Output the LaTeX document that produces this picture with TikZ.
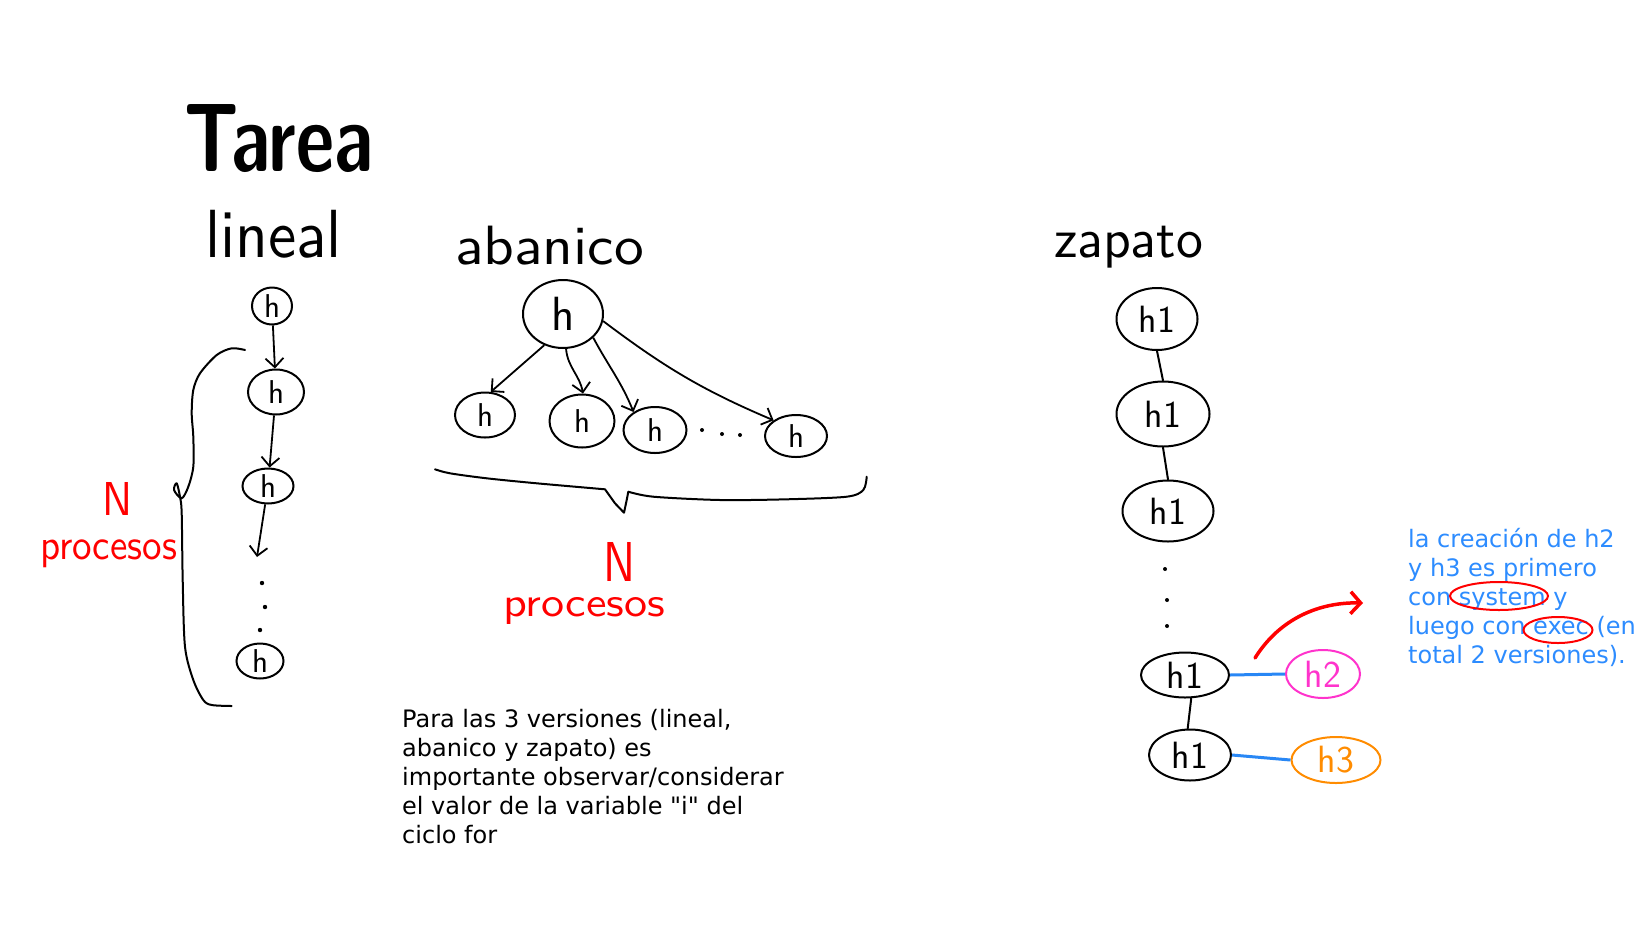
\documentclass[tikz,border=0pt]{standalone}
\usepackage{fontspec}
\usepackage{graphicx}
\setmainfont{DejaVu Sans}[Ligatures=TeXOff]
\usetikzlibrary{shapes.geometric,arrows.meta}
\definecolor{hred}{RGB}{255,0,0}
\definecolor{tblue}{RGB}{45,140,255}
\definecolor{lblue}{RGB}{40,135,245}
\definecolor{hpink}{RGB}{255,51,204}
\definecolor{horange}{RGB}{255,140,0}
\newcommand{\hw}[3]{\resizebox*{#1}{#2}{\sffamily #3}}
\tikzset{
  hand/.style={anchor=north west, inner sep=0pt, outer sep=0pt},
  hn/.style={ellipse, draw, line width=2pt, inner sep=0pt, font=\sffamily\fontsize{33}{33}\selectfont},
  bign/.style={hn, font=\sffamily\fontsize{48}{48}\selectfont},
  zn/.style={hn, font=\sffamily\fontsize{38}{38}\selectfont},
  arr/.style={line width=1.8pt, -{Straight Barb[length=9pt,width=18pt,line width=1.8pt]}},
  pen/.style={line width=2pt, line cap=round, line join=round},
  btxt/.style={anchor=base west, inner sep=0pt, text=tblue, font=\fontsize{24}{29}\selectfont},
  ktxt/.style={anchor=base west, inner sep=0pt, text=black, font=\fontsize{24}{29}\selectfont},
  ring/.style={ellipse, draw=red, line width=2pt, inner sep=0pt}
}
\begin{document}
\begin{tikzpicture}[x=1pt,y=-1pt]
\useasboundingbox[fill=white] (0,0) rectangle (1648,927);

% titles
\node[hand] (tarea) at (184,105) {\hw{189pt}{68pt}{\bfseries Tarea}};
\node[hand] (lin) at (205,210) {\hw{137pt}{48pt}{lineal}};
\node[hand] (aba) at (455,226) {\hw{189pt}{39pt}{abanico}};
\node[hand] (zap) at (1054,226) {\hw{149pt}{42pt}{zapato}};

% ---------- lineal ----------
\node[hn, minimum width=40, minimum height=37] (l1) at (272,306) {h};
\node[hn, minimum width=56, minimum height=45] (l2) at (276,392) {h};
\node[hn, minimum width=51, minimum height=35] (l3) at (268,486) {h};
\node[hn, minimum width=47, minimum height=35] (l4) at (260,661) {h};
\coordinate (l3end) at (257,557);
\draw[arr] (l1) -- (l2);
\draw[arr] (l2) -- (l3);
\draw[arr] (l3) -- (l3end);
\fill (262,583) circle (2.2);
\fill (265,607) circle (2.2);
\fill (260,630) circle (2.2);
\draw[pen] plot[smooth] coordinates {(245,350) (231.7,348.3) (216.7,355) (200,373.3) (193.3,390) (191.7,413.3) (193.3,436.7) (193.3,466.7) (188.3,486.7) (181.7,498.3) (174,490) (176.7,483.3) (180,496.7) (181.7,513.3) (182.7,580) (185,646.7) (193.3,680) (203.3,700) (211.7,705) (231.7,706)};
\node[hand, text=hred] (n1) at (102,482) {\hw{30pt}{33pt}{N}};
\node[hand, text=hred] (p1) at (40,540) {\hw{137pt}{28pt}{procesos}};

% ---------- abanico ----------
\node[bign, minimum width=80, minimum height=68] (root) at (563,314) {h};
\node[hn, minimum width=60, minimum height=45] (c1) at (485,415) {h};
\node[hn, minimum width=65, minimum height=53] (c2) at (582,421) {h};
\node[hn, minimum width=63, minimum height=46] (c3) at (655,430) {h};
\node[hn, minimum width=62, minimum height=42] (c4) at (796,436) {h};
\draw[arr] (root.239) -- (c1.76);
\draw[arr] (root.275) to[out=-85,in=100] (c2.88);
\draw[arr] (root.322) to[out=-62,in=112] (c3.140);
\draw[arr] (root.-10) to[out=-37,in=157] (c4.145);
\fill (702,430) circle (2);
\fill (722,434) circle (2);
\fill (740,435) circle (2);
\draw[pen] plot[smooth] coordinates {(435,469.3) (450,473.3) (486.7,478.3) (536.7,483.3) (605,489.3)} -- (615,503.3) -- (624,512.7) -- (626.7,500) -- (628.3,491.7)
  plot[smooth] coordinates {(628.3,491.7) (653.3,496.7) (720,500) (786.7,499.3) (846.7,496.7) (863.3,490) (866.7,476.7)};
\node[hand, text=hred] (n2) at (603,542) {\hw{32pt}{39pt}{N}};
\node[hand, text=hred] (p2) at (503,597) {\hw{162pt}{27pt}{procesos}};

% ---------- zapato ----------
\node[zn, minimum width=81, minimum height=62] (z1) at (1157,319) {h1};
\node[zn, minimum width=93, minimum height=65] (z2) at (1163,414) {h1};
\node[zn, minimum width=91, minimum height=61] (z3) at (1168,511) {h1};
\node[zn, minimum width=88, minimum height=45] (z4) at (1185,675) {h1};
\node[zn, minimum width=82, minimum height=51] (z5) at (1190,755) {h1};
\node[zn, draw=hpink, text=hpink, minimum width=74, minimum height=48] (h2) at (1323,674) {h2};
\node[zn, draw=horange, text=horange, minimum width=89, minimum height=46] (h3) at (1336,760) {h3};
\draw[pen] (z1.south) -- (z2.north);
\draw[pen] (z2.south) -- (z3.north);
\draw[pen] (z4.-75) -- (z5.95);
\fill (1165,569) circle (2);
\fill (1167,600) circle (2);
\fill (1167,626) circle (2);
\draw[lblue, line width=3pt] (z4.east) -- (h2.west);
\draw[lblue, line width=3pt] (z5.east) -- (h3.west);
\coordinate (ra0) at (1255,658);
\coordinate (ra1) at (1363,603);
\draw[red, line width=3.5pt, line cap=round, -{Straight Barb[length=10pt,width=22pt,line width=3.5pt]}] (ra0) .. controls (1280,618) and (1320,602) .. (ra1);

% blue note
\node[btxt] (b1) at (1408,547) {la creación de h2};
\node[btxt] (b2) at (1408,576) {y h3 es primero};
\node[btxt] (b3) at (1408,605) {con system y};
\node[btxt] (b4) at (1408,634) {luego con exec (en};
\node[btxt] (b5) at (1408,663) {total 2 versiones).};
\node[ring, minimum width=98, minimum height=28] (sys) at (1499,596) {};
\node[ring, minimum width=69, minimum height=26] (exe) at (1558,630) {};

% black note
\node[ktxt] (k1) at (402,727) {Para las 3 versiones (lineal,};
\node[ktxt] (k2) at (402,756) {abanico y zapato) es};
\node[ktxt] (k3) at (402,785) {importante observar/considerar};
\node[ktxt] (k4) at (402,814) {el valor de la variable "i" del};
\node[ktxt] (k5) at (402,843) {ciclo for};
\end{tikzpicture}
\end{document}
